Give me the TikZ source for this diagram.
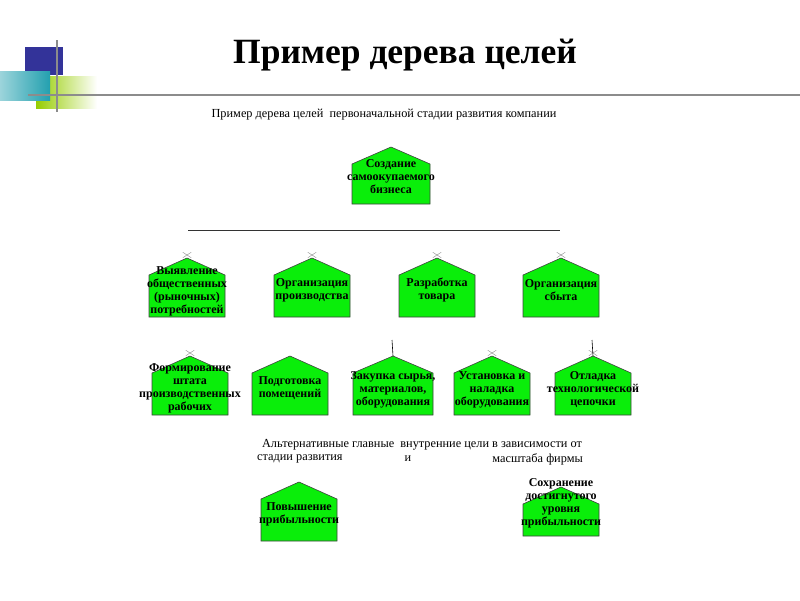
\documentclass[tikz,border=0pt]{standalone}
\usepackage{fontspec}
\setmainfont{Liberation Serif}
\usetikzlibrary{shapes.misc}
\definecolor{goalgreen}{RGB}{10,238,10}
\definecolor{decoblue}{RGB}{51,51,153}
\definecolor{decoteal}{RGB}{35,160,175}
\definecolor{decogreen}{RGB}{150,205,0}
\definecolor{rulegray}{RGB}{140,140,140}
\tikzset{house/.style={fill=goalgreen,draw=black!75,line width=0.6pt},
  goal/.style={align=center,inner sep=0pt,font=\fontsize{12}{13}\selectfont\bfseries},
  note/.style={inner sep=0pt,font=\fontsize{12.3}{14}\selectfont},
  xmark/.style={cross out,draw=black!45,minimum width=8pt,minimum height=5pt,inner sep=0pt,line width=0.4pt},
  stub/.style={draw=black,line width=0.6pt}}

\begin{document}
\begin{tikzpicture}[x=1pt,y=-1pt]
    \useasboundingbox (0,0) rectangle (800,600);
    % corner decoration
    \fill[decoblue] (25,47) rectangle (63,75);
    \shade[left color=decogreen,right color=white] (36,76) rectangle (97,108);
    \shade[left color=decoteal!45,right color=decoteal] (0,71) rectangle (50,100);
    \draw[rulegray,line width=2pt] (57,40) -- (57,112);
    \draw[rulegray,line width=2pt] (28,95) -- (800,95);
    \node[anchor=base,font=\fontsize{35.5}{42}\selectfont\bfseries] (title) at (405,63) {Пример дерева целей};
    \node[note] (sub) at (384,115) {Пример дерева целей \ первоначальной стадии развития компании};
    \coordinate (bar-l) at (188,230);
    \coordinate (bar-r) at (560,230);
    \draw[black!80,line width=0.7pt] (bar-l) -- (bar-r);
    \foreach \n/\cx/\py/\by/\hw/\ty/\txt in {
        g0/391/147/204/39/177/{Создание\\самоокупаемого\\бизнеса},
        a1/187/258/317/38/291/{Выявление\\общественных\\(рыночных)\\потребностей},
        a2/312/258/317/38/290/{Организация\\производства},
        a3/437/258/317/38/290/{Разработка\\товара},
        a4/561/258/317/38/290/{Организация\\сбыта},
        b1/190/356/415/38/388/{Формирование\\штата\\производственных\\рабочих},
        b2/290/356/415/38/388/{Подготовка\\помещений},
        b3/393/356/415/40/390/{Закупка сырья,\\материалов,\\оборудования},
        b4/492/356/415/38/390/{Установка и\\наладка\\оборудования},
        b5/593/356/415/38/390/{Отладка\\технологической\\цепочки},
        c1/299/482/541/38/514/{Повышение\\прибыльности},
        c2/561/487/536/38/503/{Сохранение\\достигнутого\\уровня\\прибыльности}} {
        \filldraw[house] (\cx-\hw,\by) -- (\cx-\hw,\py+17) -- (\cx,\py) -- (\cx+\hw,\py+17) -- (\cx+\hw,\by) -- cycle;
        \coordinate (\n-top) at (\cx,\py);
        \node[goal] (\n) at (\cx,\ty) {\txt};
    }
    \foreach \n in {a1,a2,a3,a4,b1,b4,b5}
        \node[xmark] (\n-x) at ([yshift=3pt]\n-top) {};
    \coordinate (b3-in) at (392,340);
    \coordinate (b5-in) at (592,340);
    \path (b3-in) edge[stub] (b3-top)
          (b5-in) edge[stub] (b5-top);
    \node[note] (alt1) at (422,445) {Альтернативные главные \ внутренние цели в зависимости от};
    \node[note,anchor=west] (alt2) at (257,459) {стадии развития};
    \node[note] (alt3) at (408,459) {и};
    \node[note,anchor=east] (alt4) at (583,459) {масштаба фирмы};
\end{tikzpicture}
\end{document}
